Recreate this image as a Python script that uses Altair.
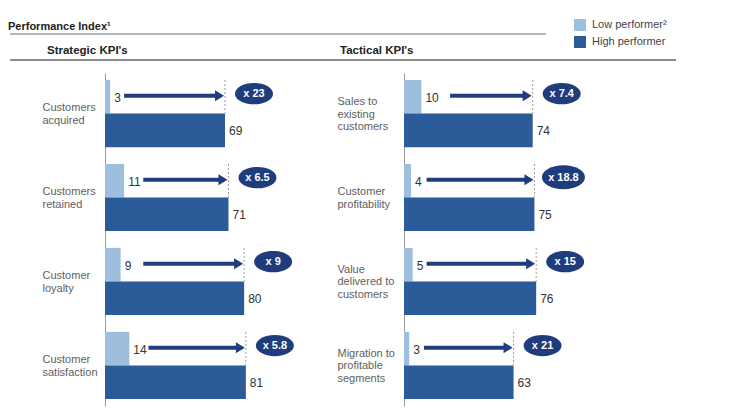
import altair as alt
import pandas as pd

FONT = "Liberation Sans"
LIGHT = "#9dbfdd"
DARK = "#2b5b98"
NAVY = "#1f3c7c"
LOW_NAME = "Low performer²"
HIGH_NAME = "High performer"

# ---- data ----
strategic_categories = ["Customers|acquired", "Customers|retained", "Customer|loyalty", "Customer|satisfaction"]
strategic_low = [3, 11, 9, 14]
strategic_high = [69, 71, 80, 81]
strategic_multiple = ["x 23", "x 6.5", "x 9", "x 5.8"]
strategic_arrow_from = [11, 22, 22, 25]

tactical_categories = ["Sales to|existing|customers", "Customer|profitability",
                       "Value|delivered to|customers", "Migration to|profitable|segments"]
tactical_low = [10, 4, 5, 3]
tactical_high = [74, 75, 76, 63]
tactical_multiple = ["x 7.4", "x 18.8", "x 15", "x 21"]
tactical_arrow_from = [26.5, 13, 13, 11.5]

# ellipse (rx 1, ry 0.56, centre slightly raised) drawn with cubic curves
ELLIPSE = ("M -1 -0.16 C -1 -0.469 -0.5523 -0.72 0 -0.72 "
           "C 0.5523 -0.72 1 -0.469 1 -0.16 "
           "C 1 0.149 0.5523 0.40 0 0.40 "
           "C -0.5523 0.40 -1 0.149 -1 -0.16 Z")
ARROWHEAD = "M 0 0 L -1.64 -1 L -1.64 1 Z"

legend = alt.Legend(title=None, orient="none", legendX=469, legendY=-54, symbolType="square",
                    symbolSize=144, symbolStrokeWidth=0, labelFont=FONT, labelFontSize=11,
                    labelColor="#444444", rowPadding=5, labelOffset=6, padding=0)


def panel(categories, low, high, multiple, arrow_from, label_padding, extra=()):
    wide = pd.DataFrame({"cat": categories, "low": low, "high": high,
                         "mult": multiple, "arrow_from": arrow_from})
    long = pd.DataFrame({
        "cat": categories + categories,
        "series": [LOW_NAME] * len(categories) + [HIGH_NAME] * len(categories),
        "value": low + high,
    })
    y_scale = alt.Scale(paddingInner=0.2, paddingOuter=0.083)
    y_axis = alt.Axis(title=None, ticks=False, domainColor="#9a9a9a", domainWidth=1,
                      labelExpr="split(datum.label, '|')", labelAlign="left",
                      labelPadding=label_padding, labelFont=FONT, labelFontSize=11,
                      labelColor="#5e5e5e", labelLineHeight=12.5, labelBaseline="middle",
                      labelOffset={"condition": {"test": "length(split(datum.value, '|')) >= 3",
                                                 "value": -11.5},
                                   "value": -5.25})
    x_scale = alt.Scale(domain=[0, 115], nice=False, zero=True)

    def Y(band=None):
        if band is None:
            return alt.Y("cat:N", sort=categories, scale=y_scale, axis=y_axis)
        return alt.Y("cat:N", sort=categories, scale=y_scale, axis=y_axis, bandPosition=band)

    def X(field):
        return alt.X(field, scale=x_scale, axis=None)

    bars = alt.Chart(long).mark_bar().encode(
        x=X("value:Q"),
        y=Y(),
        yOffset=alt.YOffset("series:N", sort=[LOW_NAME, HIGH_NAME],
                            scale=alt.Scale(paddingInner=0, paddingOuter=0)),
        color=alt.Color("series:N", scale=alt.Scale(domain=[LOW_NAME, HIGH_NAME], range=[LIGHT, DARK]),
                        legend=legend),
    )
    low_text = alt.Chart(wide).mark_text(align="left", baseline="middle", dx=4, dy=1, font=FONT,
                                         fontSize=12, color="#333333").encode(
        x=X("low:Q"), y=Y(0.25), text="low:Q")
    high_text = alt.Chart(wide).mark_text(align="left", baseline="middle", dx=4, dy=1, font=FONT,
                                          fontSize=12, color="#333333").encode(
        x=X("high:Q"), y=Y(0.75), text="high:Q")
    dashed = alt.Chart(wide).mark_rule(strokeDash=[2, 2], color="#9a9a9a", strokeWidth=1).encode(
        x=X("high:Q"), y=Y(0.0), y2=alt.Y2("cat", bandPosition=0.5))
    shaft = alt.Chart(wide).mark_rule(color=NAVY, strokeWidth=4, x2Offset=-8, yOffset=-1).encode(
        x=X("arrow_from:Q"), x2="high:Q", y=Y(0.25))
    head = alt.Chart(wide).mark_point(shape=ARROWHEAD, size=121, filled=True, color=NAVY, opacity=1,
                                      xOffset=-1, yOffset=-1).encode(x=X("high:Q"), y=Y(0.25))
    badge = alt.Chart(wide).transform_calculate(
        badge_size="pow(length(datum.mult) > 5 ? 43 : 38, 2)"
    ).mark_point(shape=ELLIPSE, filled=True, color=NAVY, opacity=1,
                 strokeWidth=0, xOffset=29).encode(
        x=X("high:Q"), y=Y(0.25), size=alt.Size("badge_size:Q", scale=None))
    badge_text = alt.Chart(wide).mark_text(color="white", font=FONT, fontWeight="bold", fontSize=11,
                                           dx=29, dy=-3, baseline="middle").encode(
        x=X("high:Q"), y=Y(0.25), text="mult:N")
    return alt.layer(bars, dashed, shaft, head, low_text, high_text, badge, badge_text, *extra).properties(
        width=200, height=333)


one = pd.DataFrame({"k": [0]})
title_text = alt.Chart(one).mark_text(text="Performance Index¹", align="left", baseline="alphabetic",
                                      font=FONT, fontSize=11, fontWeight="bold", color="#222222").encode(
    x=alt.value(-97), y=alt.value(-43))
line1 = alt.Chart(one).mark_rule(color="#6e6e6e", strokeWidth=1).encode(
    x=alt.value(-95), x2=alt.value(441), y=alt.value(-39))
line2 = alt.Chart(one).mark_rule(color="#8c8c8c", strokeWidth=2).encode(
    x=alt.value(-95), x2=alt.value(571), y=alt.value(-13))
head1 = alt.Chart(one).mark_text(text="Strategic KPI's", align="left", baseline="alphabetic",
                                 font=FONT, fontSize=11.5, fontWeight="bold", color="#222222").encode(
    x=alt.value(-58), y=alt.value(-19))
head2 = alt.Chart(one).mark_text(text="Tactical KPI's", align="left", baseline="alphabetic",
                                 font=FONT, fontSize=11.5, fontWeight="bold", color="#222222").encode(
    x=alt.value(235), y=alt.value(-19))

left = panel(strategic_categories, strategic_low, strategic_high, strategic_multiple,
             strategic_arrow_from, 63, extra=(title_text, line1, line2, head1, head2))
right = panel(tactical_categories, tactical_low, tactical_high, tactical_multiple,
              tactical_arrow_from, 67)

chart = alt.hconcat(left, right, spacing=99, bounds="flush").properties(
    padding={"left": 0, "top": 11, "right": 5, "bottom": 5}
).configure_view(stroke=None)

chart.save("out.html", embed_options={"renderer": "svg", "actions": False})
